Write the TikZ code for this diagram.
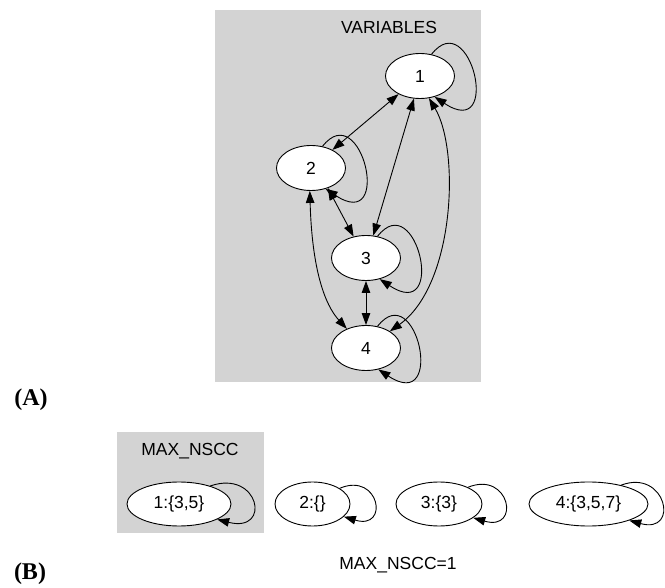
\documentclass[tikz,border=0pt]{standalone}
\usepackage{fontspec}
\setmainfont{Liberation Sans}
\newfontfamily\labfont{Liberation Serif}
\usetikzlibrary{arrows.meta,shapes.geometric}
\definecolor{gvgray}{HTML}{D3D3D3}
\begin{document}
\begin{tikzpicture}[x=1pt,y=-1pt,
  every node/.style={font=\fontsize{17.5}{20}\selectfont},
  vnode/.style={ellipse,draw,fill=white,line width=0.9pt,minimum width=69pt,minimum height=45pt,inner sep=0pt},
  bnode/.style={ellipse,draw,fill=white,line width=0.9pt,minimum height=44pt,inner sep=0pt},
  conn/.style={line width=0.9pt},
  tip/.style={-{Triangle[length=12pt,width=8.5pt]}},
  bitip/.style={{Triangle[length=12pt,width=8.5pt]}-{Triangle[length=12pt,width=8.5pt]}},
  cluster/.style={fill=gvgray,draw=none},
  panel/.style={font=\labfont\bfseries\fontsize{24}{26}\selectfont}]
\useasboundingbox (0,0) rectangle (665,588);
% clusters
\fill[cluster] (215,10) rectangle (481,382);
\node (varlab) at (389,27) {VARIABLES};
\fill[cluster] (117,432) rectangle (264,533);
\node (nscclab) at (190,451) {MAX\_NSCC};
% variable nodes
\node[vnode] (n1) at (420,76) {1};
\node[vnode] (n2) at (311,168) {2};
\node[vnode] (n3) at (366,258) {3};
\node[vnode] (n4) at (366,348) {4};
% edges
\draw[conn,bitip] (n1) -- (n2);
\draw[conn,bitip] (n2.-50) -- (n3.120);
\draw[conn,bitip] (n1.-105) -- (n3.72);
\draw[conn,bitip] (n3) -- (n4);
\draw[conn,bitip] (n2.-93) .. controls (312,270) and (325,305) .. (n4.135);
\draw[conn,bitip] (n1.-68) .. controls (460,150) and (455,285) .. (n4.35);
% loops
\draw[conn,tip] (n1.62) .. controls +(39,-50) and +(68,45) .. (n1.-55);
\draw[conn,tip] (n2.62) .. controls +(39,-50) and +(68,45) .. (n2.-55);
\draw[conn,tip] (n3.62) .. controls +(39,-50) and +(68,45) .. (n3.-57);
\draw[conn,tip] (n4.62) .. controls +(39,-50) and +(68,45) .. (n4.-60);
% bottom nodes
\node[bnode,minimum width=104pt] (b1) at (179,504) {1:\{3,5\}};
\node[bnode,minimum width=75pt] (b2) at (312.5,504) {2:\{\}};
\node[bnode,minimum width=86pt] (b3) at (439,504) {3:\{3\}};
\node[bnode,minimum width=119pt] (b4) at (588.5,504) {4:\{3,5,7\}};
\draw[conn,tip] (b1.30) .. controls +(49,-17) and +(55,14) .. (b1.-22);
\draw[conn,tip] (b2.30) .. controls +(40,-17) and +(46,14) .. (b2.-22);
\draw[conn,tip] (b3.30) .. controls +(42,-17) and +(48,14) .. (b3.-22);
\draw[conn,tip] (b4.30) .. controls +(45,-17) and +(51,14) .. (b4.-22);
\node (res) at (398,565) {MAX\_NSCC=1};
\node[panel] (pa) at (31,400) {(A)};
\node[panel] (pb) at (30,574) {(B)};
\end{tikzpicture}
\end{document}
